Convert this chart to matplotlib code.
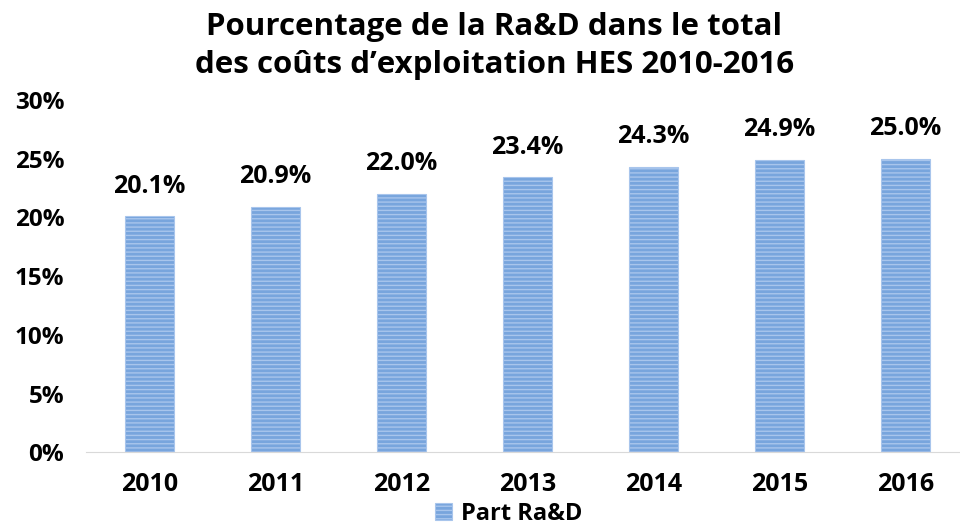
import matplotlib.pyplot as plt

plt.rcParams['font.family'] = ['Open Sans', 'DejaVu Sans']
plt.rcParams['hatch.linewidth'] = 1.0

years = ['2010', '2011', '2012', '2013', '2014', '2015', '2016']
part_rad = [20.1, 20.9, 22.0, 23.4, 24.3, 24.9, 25.0]

fig = plt.figure(figsize=(9.6, 5.32), dpi=100)
ax = fig.add_axes([0.09, 0.15, 0.919, 0.662])

bars = ax.bar(range(len(years)), part_rad, width=0.39, color='#78A5DD',
              edgecolor='#A8C5EC', hatch='----', linewidth=0.8, label='Part Ra&D')
for i, v in enumerate(part_rad):
    ax.text(i, v + 1.5, f'{v:.1f}%', ha='center', va='bottom',
            fontsize=18, fontweight='bold')

ax.set_xlim(-0.5, 6.5)
ax.set_ylim(0, 30)
ax.set_yticks(range(0, 31, 5))
ax.set_yticklabels([f'{t}%' for t in range(0, 31, 5)])
ax.set_xticks(range(len(years)))
ax.set_xticklabels(years)
ax.tick_params(length=0)
ax.tick_params(axis='x', pad=14, labelsize=18)
ax.tick_params(axis='y', pad=16, labelsize=17.5)
for lab in ax.get_xticklabels() + ax.get_yticklabels():
    lab.set_fontweight('bold')
for s in ['top', 'right', 'left']:
    ax.spines[s].set_visible(False)
ax.spines['bottom'].set_color('#D9D9D9')

fig.text(0.515, 0.978, 'Pourcentage de la Ra&D dans le total\ndes coûts d\u2019exploitation HES 2010-2016',
         ha='center', va='top', fontsize=22.5, fontweight='bold', linespacing=1.35)

fig.legend(handles=[bars], loc='lower center', bbox_to_anchor=(0.53, -0.028),
           frameon=False, prop={'size': 17, 'weight': 'bold'},
           handlelength=0.7, handleheight=0.7, handletextpad=0.4)

fig.savefig('out.png', dpi=100)
